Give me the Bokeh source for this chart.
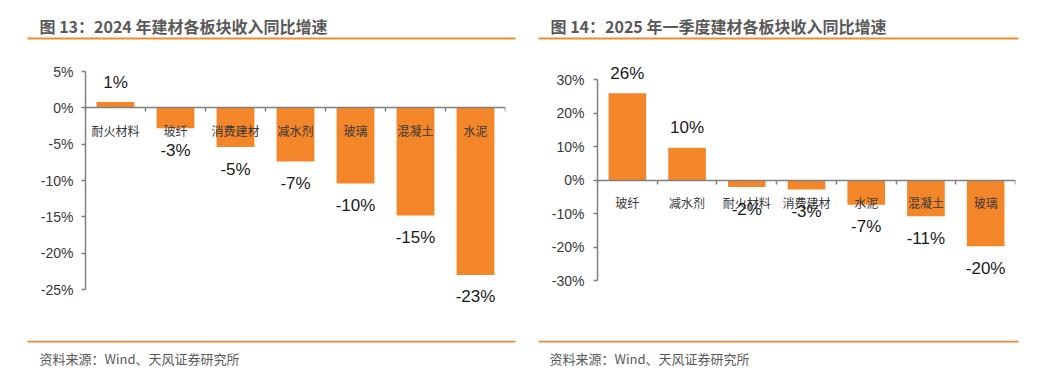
from bokeh.plotting import figure
from bokeh.layouts import column, row
from bokeh.models import Range1d, FixedTicker, ColumnDataSource, LabelSet
from bokeh.core.properties import value
from bokeh.embed import file_html
from bokeh.resources import INLINE

# ---------------- data ----------------
cats_2024 = ["耐火材料", "玻纤", "消费建材", "减水剂", "玻璃", "混凝土", "水泥"]
vals_2024 = [0.8, -2.8, -5.4, -7.4, -10.4, -14.8, -23.0]
yticks_2024 = [5, 0, -5, -10, -15, -20, -25]

cats_2025q1 = ["玻纤", "减水剂", "耐火材料", "消费建材", "水泥", "混凝土", "玻璃"]
vals_2025q1 = [25.9, 9.6, -2.1, -2.8, -7.4, -10.8, -19.8]
yticks_2025q1 = [30, 20, 10, 0, -10, -20, -30]

titles = ["图 13：2024 年建材各板块收入同比增速",
          "图 14：2025 年一季度建材各板块收入同比增速"]
source_text = "资料来源：Wind、天风证券研究所"

# ---------------- styles / layout ----------------
BAR = "#F4862A"
ORANGE = "#F08A2C"
ORANGE2 = "#E8893A"
AXIS = "#808080"
TXT = "#383838"
CJK = "Noto Sans CJK SC"
NUM = "Liberation Sans"
TOTAL_W = 1051
ROW_TOP = 58          # window y where the chart row starts
FRAME_TOP = 60        # window y of frame top
FRAME_BOT = 310       # window y of frame bottom
BOTTOM_BORDER = 30


def deco_fig(h):
    p = figure(width=TOTAL_W, height=h, x_range=Range1d(0, TOTAL_W), y_range=Range1d(h, 0),
               x_axis_type=None, y_axis_type=None, output_backend="svg",
               toolbar_location=None, min_border=0, outline_line_color=None)
    p.grid.visible = False
    return p


def make_chart(cats, vals, yticks, fw, bl, br, axis_top_px, axis_bot_px, standoff_y):
    """axis_top_px / axis_bot_px: window y of the highest / lowest y tick."""
    n = len(cats)
    ymax, ymin = max(yticks), min(yticks)
    ppu = (axis_bot_px - axis_top_px) / (ymax - ymin)
    r_top = ymax + (axis_top_px - FRAME_TOP) / ppu
    r_bot = ymin - (FRAME_BOT - axis_bot_px) / ppu
    p = figure(frame_width=fw, frame_height=FRAME_BOT - FRAME_TOP,
               x_range=Range1d(-0.5, n - 0.5),
               y_range=Range1d(r_bot, r_top),
               output_backend="svg", toolbar_location=None,
               min_border_left=bl, min_border_right=br,
               min_border_top=FRAME_TOP - ROW_TOP, min_border_bottom=BOTTOM_BORDER,
               outline_line_color=None)
    p.grid.visible = False
    xs = list(range(n))
    src = ColumnDataSource(dict(
        x=xs, top=vals,
        label=[f"{round(v)}%" for v in vals],
        yoff=[20 if v > 0 else -22 for v in vals]))
    p.vbar(x="x", top="top", bottom=0, width=0.63, source=src,
           fill_color=BAR, line_color=None)
    labels = LabelSet(x="x", y="top", text="label", y_offset="yoff", source=src,
                      text_align="center", text_baseline="middle",
                      text_font=value(NUM), text_font_size="17px", text_color="#1a1a1a")
    p.add_layout(labels)

    xa = p.xaxis[0]
    xa.fixed_location = 0
    xa.ticker = FixedTicker(ticks=xs, minor_ticks=[i - 0.5 for i in range(n + 1)])
    xa.major_label_overrides = {i: c for i, c in zip(xs, cats)}
    xa.major_tick_line_color = None
    xa.major_tick_out = 0
    xa.major_tick_in = 0
    xa.minor_tick_out = 4
    xa.minor_tick_in = 0
    xa.minor_tick_line_color = AXIS
    xa.minor_tick_line_width = 1.5
    xa.axis_line_color = AXIS
    xa.axis_line_width = 1.5
    xa.major_label_standoff = 10
    xa.major_label_text_font = CJK
    xa.major_label_text_font_size = "12px"
    xa.major_label_text_color = TXT

    ya = p.yaxis[0]
    ya.bounds = (ymin, ymax)
    ya.ticker = FixedTicker(ticks=yticks, minor_ticks=[])
    ya.major_label_overrides = {t: f"{t}%" for t in yticks}
    ya.major_tick_out = 4
    ya.major_tick_in = 0
    ya.major_tick_line_color = AXIS
    ya.major_tick_line_width = 1.5
    ya.minor_tick_line_color = None
    ya.axis_line_color = AXIS
    ya.axis_line_width = 1.5
    ya.major_label_standoff = standoff_y
    ya.major_label_text_font = NUM
    ya.major_label_text_font_size = "14px"
    ya.major_label_text_color = TXT
    return p


# header (window y 0..58)
head = deco_fig(ROW_TOP)
head.text(x=[39, 550], y=[25, 25], text=titles, text_font=value(CJK),
          text_font_style="bold", text_font_size="16px", text_color="#595959",
          text_baseline="middle", text_align="left")
head.segment(x0=[27, 538], y0=[38, 38], x1=[515, 1018], y1=[38, 38],
             line_color=ORANGE, line_width=2)

# charts
left = make_chart(cats_2024, vals_2024, yticks_2024, 420, 85, 23, 71, 289, 8)
right = make_chart(cats_2025q1, vals_2025q1, yticks_2025q1, 418, 69, 36, 79, 280, 9)

# footer (starts at window y 340)
FOOT_TOP = FRAME_BOT + BOTTOM_BORDER
foot = deco_fig(391 - FOOT_TOP)
foot.segment(x0=[27, 538], y0=[341 - FOOT_TOP] * 2, x1=[515, 1018], y1=[341 - FOOT_TOP] * 2,
             line_color=ORANGE2, line_width=2)
foot.text(x=[39, 549], y=[358 - FOOT_TOP] * 2, text=[source_text, source_text],
          text_font=value(CJK), text_font_size="13px", text_color="#595959",
          text_baseline="middle", text_align="left")

layout = column(head, row(left, right), foot)
open("out.html", "w").write(file_html(layout, INLINE))
